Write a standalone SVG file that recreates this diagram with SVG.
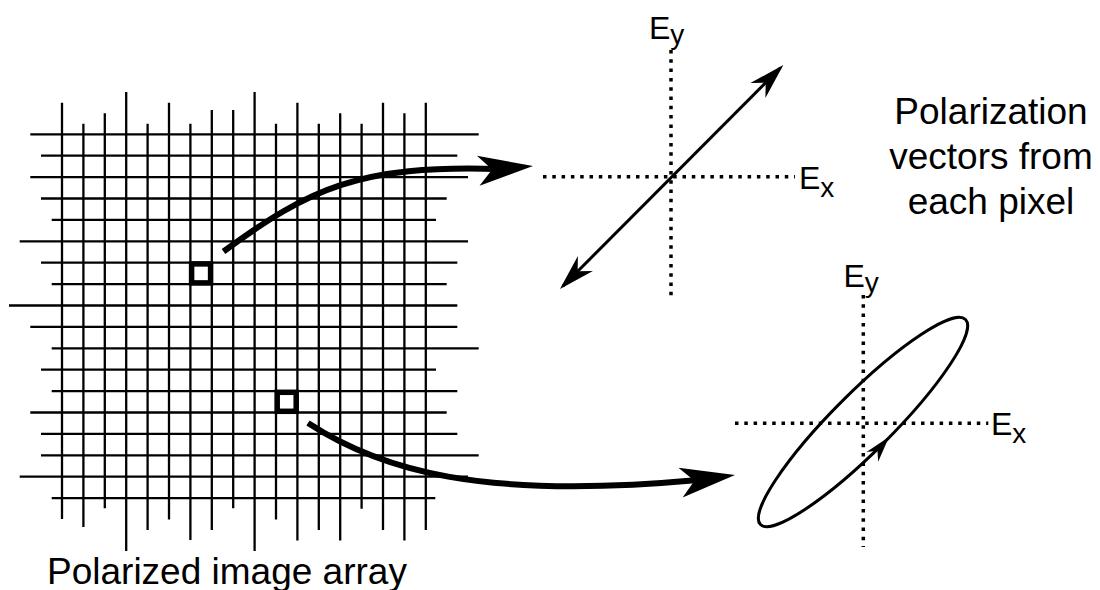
<svg xmlns="http://www.w3.org/2000/svg" width="1100" height="590" viewBox="0 0 1100 590">
<style>
.grid line{stroke:#000;stroke-width:2.3}
.px{fill:none;stroke:#000;stroke-width:5.5}
.big{fill:none;stroke:#000;stroke-width:6}
.axis{stroke:#000;stroke-width:3.5;stroke-dasharray:3.5 5.8}
.vec{stroke:#000;stroke-width:3;fill:none}
.head{fill:#000}
text{font-family:"Liberation Sans",Arial,sans-serif;fill:#000}
.lbl{font-size:32px}
.sub{font-size:28px}
.cap{font-size:37px}
</style>
<defs>
<path id="bighead" d="M0,0 L-55,-15 L-41,0 L-55,15 Z"/>
<path id="smallhead" d="M0,0 L-36,-10.6 L-25,0 L-36,10.6 Z"/>
<marker id="vhead" markerUnits="userSpaceOnUse" viewBox="-40 -15 50 30" refX="0" refY="0" markerWidth="50" markerHeight="30" orient="auto-start-reverse">
<path d="M4,0 L-32,-10.6 L-21,0 L-32,10.6 Z" fill="#000"/>
</marker>
</defs>

<g id="pixel-array" class="grid">
<line x1="62" y1="102.7" x2="62" y2="519"/>
<line x1="83.4" y1="123.7" x2="83.4" y2="527"/>
<line x1="104.8" y1="113.3" x2="104.8" y2="508.3"/>
<line x1="126.2" y1="92" x2="126.2" y2="551"/>
<line x1="147.6" y1="123.7" x2="147.6" y2="530"/>
<line x1="169" y1="102.7" x2="169" y2="519.5"/>
<line x1="190.4" y1="123.7" x2="190.4" y2="540"/>
<line x1="211.8" y1="110" x2="211.8" y2="530"/>
<line x1="233.2" y1="110" x2="233.2" y2="508.3"/>
<line x1="254.6" y1="92" x2="254.6" y2="551"/>
<line x1="276" y1="123.7" x2="276" y2="519.5"/>
<line x1="297.4" y1="102.7" x2="297.4" y2="540.5"/>
<line x1="318.8" y1="123.7" x2="318.8" y2="530"/>
<line x1="340.2" y1="113.3" x2="340.2" y2="540.5"/>
<line x1="361.6" y1="123.7" x2="361.6" y2="508.7"/>
<line x1="383" y1="102.7" x2="383" y2="530"/>
<line x1="404.4" y1="113.3" x2="404.4" y2="540.5"/>
<line x1="425.8" y1="102.7" x2="425.8" y2="530"/>
<line x1="30.3" y1="134.3" x2="478.7" y2="134.3"/>
<line x1="41" y1="155.7" x2="457.3" y2="155.7"/>
<line x1="30.3" y1="177.1" x2="468" y2="177.1"/>
<line x1="41" y1="198.5" x2="446.7" y2="198.5"/>
<line x1="51.7" y1="219.9" x2="436" y2="219.9"/>
<line x1="19.7" y1="241.3" x2="468" y2="241.3"/>
<line x1="41" y1="262.7" x2="457.3" y2="262.7"/>
<line x1="51.7" y1="284.1" x2="446.7" y2="284.1"/>
<line x1="9" y1="305.5" x2="457.3" y2="305.5"/>
<line x1="30.3" y1="326.9" x2="457.3" y2="326.9"/>
<line x1="51.7" y1="348.3" x2="478.7" y2="348.3"/>
<line x1="41" y1="369.7" x2="436" y2="369.7"/>
<line x1="51.7" y1="391.1" x2="457.3" y2="391.1"/>
<line x1="30.3" y1="412.5" x2="446.7" y2="412.5"/>
<line x1="41" y1="433.9" x2="457.3" y2="433.9"/>
<line x1="41" y1="455.3" x2="478.7" y2="455.3"/>
<line x1="19.7" y1="476.7" x2="468" y2="476.7"/>
<line x1="51.7" y1="498.1" x2="435.3" y2="498.1"/>
</g>

<g id="pixel-1"><rect class="px" x="191.6" y="263.9" width="19" height="19"/></g>
<g id="pixel-2"><rect class="px" x="277.2" y="392.3" width="19" height="19"/></g>

<g id="linear-plot">
<line class="axis" x1="671" y1="50" x2="671" y2="300"/>
<line class="axis" x1="543" y1="176.7" x2="795" y2="176.7"/>
<line class="vec" x1="562.8" y1="286.2" x2="780.5" y2="67.8" marker-start="url(#vhead)" marker-end="url(#vhead)"/>
<text class="lbl" x="649" y="39">E<tspan class="sub" dy="5">y</tspan></text>
<text class="lbl" x="799" y="189">E<tspan class="sub" dy="8">x</tspan></text>
</g>

<g id="elliptical-plot">
<line class="axis" x1="863.3" y1="295" x2="863.3" y2="547"/>
<line class="axis" x1="735" y1="423.3" x2="988.3" y2="423.3"/>
<ellipse class="vec" cx="863" cy="422" rx="145" ry="29.5" transform="rotate(-45 863 422)"/>
<use href="#smallhead" class="head" transform="translate(889,437) rotate(-50) scale(0.72)"/>
<text class="lbl" x="843.5" y="287">E<tspan class="sub" dy="5">y</tspan></text>
<text class="lbl" x="991" y="435">E<tspan class="sub" dy="8">x</tspan></text>
</g>

<g id="caption-array"><text class="cap" x="47" y="584">Polarized image array</text></g>
<g id="caption-vectors">
<text class="cap" text-anchor="middle" x="991" y="124">Polarization</text>
<text class="cap" text-anchor="middle" x="991" y="169">vectors from</text>
<text class="cap" text-anchor="middle" x="991" y="214">each pixel</text>
</g>

<g id="connectors">
<path class="big" d="M223.5,251.5 C310,188 360,165 497,169"/>
<use href="#bighead" class="head" transform="translate(533,166) rotate(-5)"/>
<path class="big" d="M308,423 C380,470 480,500 698,480"/>
<use href="#bighead" class="head" transform="translate(735,475) rotate(-8)"/>
</g>
</svg>
